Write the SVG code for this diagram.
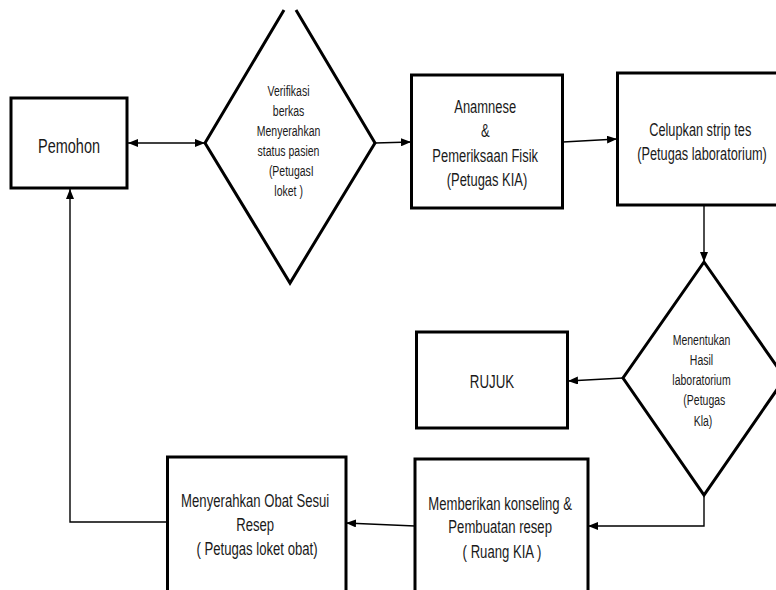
<svg xmlns="http://www.w3.org/2000/svg" width="776" height="590" viewBox="0 0 776 590">
<style>
.box{fill:#fff;stroke:#000;stroke-width:3}
.dia{fill:#fff;stroke:#000;stroke-width:3;stroke-linejoin:miter}
.con{fill:none;stroke:#000;stroke-width:1.4}
.t{font-family:"Liberation Sans",Arial,sans-serif;fill:#1a1a1a;text-anchor:middle}
.s17{font-size:18.5px}
.s14{font-size:15px}
</style>
<defs>
<marker id="arr" viewBox="0 0 10 8" refX="10" refY="4" markerWidth="10" markerHeight="8" markerUnits="userSpaceOnUse" orient="auto-start-reverse">
<path d="M0,0 L10,4 L0,8 z" fill="#000"/>
</marker>
</defs>
<rect width="776" height="590" fill="#fff"/>
<g id="connectors">
<path class="con" d="M128,143 L205,143" marker-start="url(#arr)" marker-end="url(#arr)"/>
<path class="con" d="M375,143 L411,142" marker-end="url(#arr)"/>
<path class="con" d="M563,142 L617,139" marker-end="url(#arr)"/>
<path class="con" d="M704,205 L704,262" marker-end="url(#arr)"/>
<path class="con" d="M623,378 L568,381" marker-end="url(#arr)"/>
<path class="con" d="M704,495 L704,526 L588,526" marker-end="url(#arr)"/>
<path class="con" d="M415,526 L346,523" marker-end="url(#arr)"/>
<path class="con" d="M167,522 L70,522 L70,189" marker-end="url(#arr)"/>
</g>
<g id="pemohon">
<rect class="box" x="11" y="98" width="116" height="90"/>
<text class="t" font-size="21" transform="translate(69 0) scale(0.69 1)"><tspan x="0" y="153.5">Pemohon</tspan></text>
</g>
<g id="verifikasi">
<polyline class="dia" points="284,10 205,143 290,283 375,143 296,10"/>
<text class="t s14" transform="translate(290 0) scale(0.7 1)">
<tspan x="0" y="96">Verifikasi</tspan>
<tspan x="0" y="116">berkas</tspan>
<tspan x="0" y="136">Menyerahkan</tspan>
<tspan x="0" y="156">status pasien</tspan>
<tspan x="4" y="176">(PetugasI</tspan>
<tspan x="-2" y="196">loket )</tspan>
</text>
</g>
<g id="anamnese">
<rect class="box" x="411.5" y="75" width="151" height="133"/>
<text class="t s17" transform="translate(487 0) scale(0.7 1)">
<tspan x="0" y="113">Anamnese</tspan>
<tspan x="0" y="137.5">&amp;</tspan>
<tspan x="0" y="162">Pemeriksaan Fisik</tspan>
<tspan x="0" y="186">(Petugas  KIA)</tspan>
</text>
</g>
<g id="celupkan">
<rect class="box" x="617.5" y="73" width="190" height="132"/>
<text class="t s17" transform="translate(702 0) scale(0.69 1)">
<tspan x="0" y="136.5">Celupkan strip tes</tspan>
<tspan x="0" y="160.5">(Petugas laboratorium)</tspan>
</text>
</g>
<g id="menentukan">
<polygon class="dia" points="704,262 623,378 704,495 785,378"/>
<text class="t s14" transform="translate(703 0) scale(0.7 1)">
<tspan x="0" y="345">Menentukan</tspan>
<tspan x="0" y="365">Hasil</tspan>
<tspan x="0" y="385">laboratorium</tspan>
<tspan x="4" y="405">(Petugas</tspan>
<tspan x="0" y="426">Kla)</tspan>
</text>
</g>
<g id="rujuk">
<rect class="box" x="416.5" y="332" width="151" height="96"/>
<text class="t s17" transform="translate(492 0) scale(0.72 1)"><tspan x="0" y="388">RUJUK</tspan></text>
</g>
<g id="memberikan">
<rect class="box" x="415" y="459" width="173" height="150"/>
<text class="t s17" transform="translate(502 0) scale(0.71 1)">
<tspan x="0" y="510">Memberikan konseling &amp;</tspan>
<tspan x="0" y="533.5">Pembuatan resep</tspan>
<tspan x="0" y="558">( Ruang KIA )</tspan>
</text>
</g>
<g id="menyerahkan">
<rect class="box" x="167.5" y="457" width="178.5" height="150"/>
<text class="t s17" transform="translate(257 0) scale(0.71 1)">
<tspan x="0" y="507">Menyerahkan Obat Sesui</tspan>
<tspan x="0" y="531">Resep</tspan>
<tspan x="0" y="555">( Petugas loket obat)</tspan>
</text>
</g>
</svg>
